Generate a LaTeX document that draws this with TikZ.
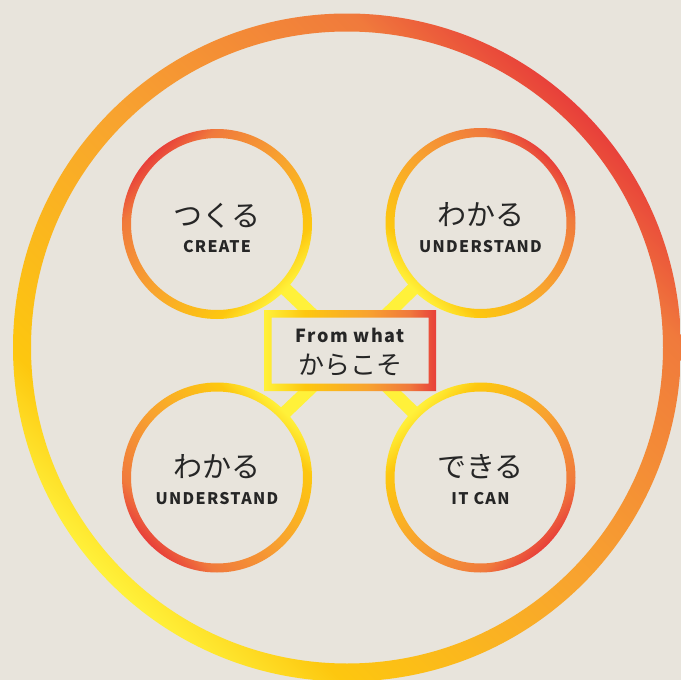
\documentclass[tikz,border=0pt]{standalone}
\usepackage{fontspec}
\newfontfamily\jp{Noto Sans CJK JP}
\newfontfamily\en[LetterSpace=8]{Noto Sans CJK JP}
\definecolor{bg}{HTML}{E8E4DC}
\definecolor{gyel}{HTML}{FFF13A}
\definecolor{ggold}{HTML}{FDC70F}
\definecolor{gmid}{HTML}{F8A32F}
\definecolor{gorange}{HTML}{F07A3C}
\definecolor{gred}{HTML}{E8403A}
\definecolor{txt}{HTML}{262626}
\pgfdeclarehorizontalshading{ringgrad}{100bp}{color(0bp)=(gyel); color(25bp)=(gyel); color(32bp)=(ggold); color(50bp)=(gmid); color(68bp)=(gorange); color(75bp)=(gred); color(100bp)=(gred)}
\pgfdeclarehorizontalshading{boxgrad}{100bp}{color(0bp)=(gyel); color(25bp)=(gyel); color(37bp)=(ggold); color(55bp)=(gmid); color(67bp)=(gorange); color(75bp)=(gred); color(100bp)=(gred)}
\tikzset{
  conn/.style={draw=gyel, line width=13pt},
  jptext/.style={text=txt, font=\jp\fontsize{29}{32}\selectfont, inner sep=0pt},
  entext/.style={text=txt, font=\en\bfseries\fontsize{16}{18}\selectfont, inner sep=0pt},
  boxen/.style={text=txt, font=\en\bfseries\fontsize{18}{20}\selectfont, inner sep=0pt},
  boxjp/.style={text=txt, font=\jp\fontsize{26}{28}\selectfont, inner sep=0pt},
}
\begin{document}
\begin{tikzpicture}[x=1pt,y=-1pt]
\fill[bg] (0,0) rectangle (681,680);
\useasboundingbox (0,0) rectangle (681,680);
% centres
\coordinate (big) at (347,347.5);
\coordinate (tl) at (217,224);
\coordinate (tr) at (480.5,223);
\coordinate (bl) at (217,477.5);
\coordinate (br) at (480.5,477.5);
\coordinate (ctr) at (350,350.5);
% big ring
\shade[shading=ringgrad, shading angle=45, even odd rule]
  (big) circle[radius=334pt] (big) circle[radius=316pt];
% connectors
\draw[conn] (ctr) -- (tl);
\draw[conn] (ctr) -- (tr);
\draw[conn] (ctr) -- (bl);
\draw[conn] (ctr) -- (br);
% small rings
\foreach \c/\a in {tl/135, tr/45, bl/225, br/315}{
  \fill[bg] (\c) circle[radius=90pt];
  \shade[shading=ringgrad, shading angle=\a, even odd rule]
    (\c) circle[radius=95pt] (\c) circle[radius=86pt];
}
% centre box
\fill[bg] ([xshift=-86pt,yshift=40.5pt]ctr) rectangle ([xshift=86pt,yshift=-40.5pt]ctr);
\shade[shading=boxgrad, even odd rule]
  ([xshift=-86pt,yshift=40.5pt]ctr) rectangle ([xshift=86pt,yshift=-40.5pt]ctr)
  ([xshift=-78.5pt,yshift=33pt]ctr) rectangle ([xshift=78.5pt,yshift=-33pt]ctr);
% texts
\node[jptext] (tlj) at (217,216) {つくる};
\node[entext] (tle) at (217,247) {CREATE};
\node[jptext] (trj) at (480.5,215) {わかる};
\node[entext] (tre) at (480.5,247) {UNDERSTAND};
\node[jptext] (blj) at (217,467) {わかる};
\node[entext] (ble) at (217,499) {UNDERSTAND};
\node[jptext] (brj) at (480.5,467) {できる};
\node[entext] (bre) at (480.5,499) {IT CAN};
\node[boxen] (ce) at (350,335) {From what};
\node[boxjp] (cj) at (350,365) {からこそ};
\end{tikzpicture}
\end{document}
